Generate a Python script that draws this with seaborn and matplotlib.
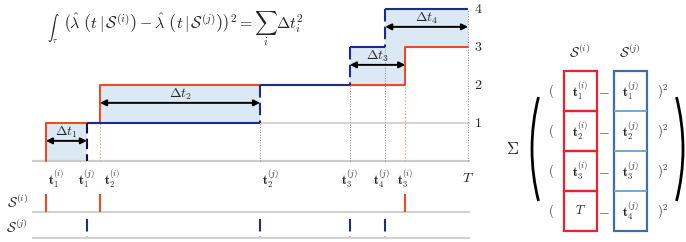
import numpy as np
import pandas as pd
import matplotlib.pyplot as plt
import seaborn as sns
from matplotlib.patches import Arc, Rectangle

# Event times (window ends at T).
t_i = [0.32, 1.56, 8.56]            # events of S^(i)
t_j = [1.26, 5.23, 7.29, 8.10]      # events of S^(j)
T = 10.0
counts = [1, 2, 3, 4]
lab_i = [r'$\mathbf{t}_1^{(i)}$', r'$\mathbf{t}_2^{(i)}$', r'$\mathbf{t}_3^{(i)}$']
lab_j = [r'$\mathbf{t}_1^{(j)}$', r'$\mathbf{t}_2^{(j)}$', r'$\mathbf{t}_3^{(j)}$', r'$\mathbf{t}_4^{(j)}$']
dt_labels = [r'$\Delta t_1$', r'$\Delta t_2$', r'$\Delta t_3$', r'$\Delta t_4$']
# small nudges so event labels do not collide
shift_i = [0.24, 0.27, 0.0]
shift_j = [0.0, 0.25, 0.0, -0.09]
# matrix on the right
mat_left = [r'$\mathbf{t}_1^{(i)}$', r'$\mathbf{t}_2^{(i)}$', r'$\mathbf{t}_3^{(i)}$', r'$T$']
mat_right = lab_j

red = '#f04a23'
navy = '#1c2c8c'
shade = '#dbe9f5'
grey = '#cccccc'

sns.set_theme(style='white')
plt.rcParams['mathtext.fontset'] = 'cm'
plt.rcParams['font.family'] = ['DejaVu Serif']

fig = plt.figure(figsize=(6.86, 2.42), dpi=100)
ax = fig.add_axes([0, 0, 494 / 686, 1])
ax.set_xlim(-0.734, 10.596)
ax.set_ylim(-2.132, 4.237)
ax.axis('off')

# baseline and level-1 guide
ax.hlines(0, 0, T + 0.05, color=grey, lw=1.6, zorder=1)
ax.hlines(1, t_i[0], T + 0.05, color=grey, lw=1.2, zorder=1)

# shaded differences between the two step functions
ends_i = t_i + [T]
for k in range(4):
    a, b = sorted([ends_i[k], t_j[k]])
    ax.fill_between([a, b], k, k + 1, color=shade, lw=0, zorder=0)
    ax.annotate('', xy=(b, k + 0.53), xytext=(a, k + 0.53),
                arrowprops=dict(arrowstyle='<|-|>', color='black', lw=1.4,
                                mutation_scale=9, shrinkA=0, shrinkB=0), zorder=5)
    ax.text((a + b) / 2, k + 0.76, dt_labels[k], ha='center', va='center', fontsize=10)

# dotted guides
for k in range(1, 4):
    ax.vlines(t_j[k], 0, k, color='#888888', lw=0.7, linestyles=':', zorder=2)
for k in range(1, 3):
    ax.vlines(t_i[k], 0, k, color='#f4a08a', lw=0.9, linestyles=':', zorder=2)
ax.vlines(T, 0, 4, color='#888888', lw=0.7, linestyles=':', zorder=2)

# counting process of S^(i)
step_i = pd.DataFrame({'t': [t_i[0]] + t_i + [T], 'n': [0] + counts[:3] + [3]})
sns.lineplot(data=step_i, x='t', y='n', ax=ax, color=red, lw=1.5,
             drawstyle='steps-post', estimator=None, sort=False, zorder=4)

# counting process of S^(j): solid plateaus, dashed jumps
ax.hlines(counts, t_j, t_j[1:] + [T], color=navy, lw=1.5, zorder=4)
ax.vlines(t_j[0], 1, 0, color='#111133', lw=1.5, linestyles=(0, (5, 2.5)), zorder=4)
ax.vlines(t_j[1:], counts[1:], counts[:3], color=navy, lw=1.5,
          linestyles=(0, (6, 2.5)), zorder=4)

# level numbers on the right
for c in counts:
    ax.text(10.23, c, f'${c}$', ha='center', va='center', fontsize=10)
ax.text(T, -0.45, r'$T$', ha='center', va='center', fontsize=10)

# event labels
for x, s, lab in zip(t_i, shift_i, lab_i):
    ax.text(x + s, -0.48, lab, ha='center', va='center', fontsize=9)
for x, s, lab in zip(t_j, shift_j, lab_j):
    ax.text(x + s, -0.48, lab, ha='center', va='center', fontsize=9)

# raster rows
ax.hlines([-1.342, -2.026], 0, T + 0.05, color=grey, lw=1.3)
ax.vlines(t_i, -1.342, -0.868, color=red, lw=1.5)
ax.vlines(t_j, -1.526, -2.0, color=navy, lw=1.5, linestyles=(0, (6, 2.5, 1, 2.5)))
ax.text(-0.34, -1.105, r'$\mathcal{S}^{(i)}$', ha='center', va='center', fontsize=10)
ax.text(-0.34, -1.763, r'$\mathcal{S}^{(j)}$', ha='center', va='center', fontsize=10)

# formula (small inline integral, then the rest)
ax.text(0.34, 3.47, r'$\int_{\tau}$', ha='left', va='center', fontsize=8)
ax.text(0.72, 3.47,
        r'$\left(\hat{\lambda}\ \left(t\,|\,\mathcal{S}^{(i)}\right) - '
        r'\hat{\lambda}\ \left(t\,|\,\mathcal{S}^{(j)}\right)\right)^2 = \sum_i \Delta t_i^2$',
        ha='left', va='center', fontsize=11.5)

# matrix panel
bx = fig.add_axes([494 / 686, 0, 192 / 686, 1])
bx.set_xlim(-1.72, 2.12)
bx.set_ylim(3.775, -2.275)
bx.axis('off')

w = 0.66
for r in range(4):
    bx.add_patch(Rectangle((-w / 2, r - 0.5), w, 1, fill=False, ec='#e8232b', lw=1.6))
bx.hlines([0.5, 1.5, 2.5], 1 - w / 2, 1 + w / 2, color='#6fa8dc', lw=1.4)
bx.add_patch(Rectangle((1 - w / 2, -0.5), w, 4, fill=False, ec='#3d6fa5', lw=1.6))
for r in range(4):
    bx.text(0, r, mat_left[r], ha='center', va='center', fontsize=9)
    bx.text(1, r, mat_right[r], ha='center', va='center', fontsize=9)
    bx.text(0.48, r, r'$-$', ha='center', va='center', fontsize=10)
    bx.text(-0.58, r, r'$($', ha='center', va='center', fontsize=9)
    bx.text(1.66, r, r'$)^2$', ha='center', va='center', fontsize=9)
bx.text(0, -0.975, r'$\mathcal{S}^{(i)}$', ha='center', va='center', fontsize=10)
bx.text(1, -0.975, r'$\mathcal{S}^{(j)}$', ha='center', va='center', fontsize=10)
bx.text(-1.34, 1.45, r'$\Sigma$', ha='center', va='center', fontsize=12)

# big brackets
bx.add_patch(Arc((3.24, 1.45), 8.4, 10.5, theta1=162.3, theta2=197.7, color='black', lw=2))
bx.add_patch(Arc((-2.14, 1.45), 8.4, 10.5, theta1=-17.7, theta2=17.7, color='black', lw=2))

fig.savefig('out.png', dpi=100, facecolor='white')
